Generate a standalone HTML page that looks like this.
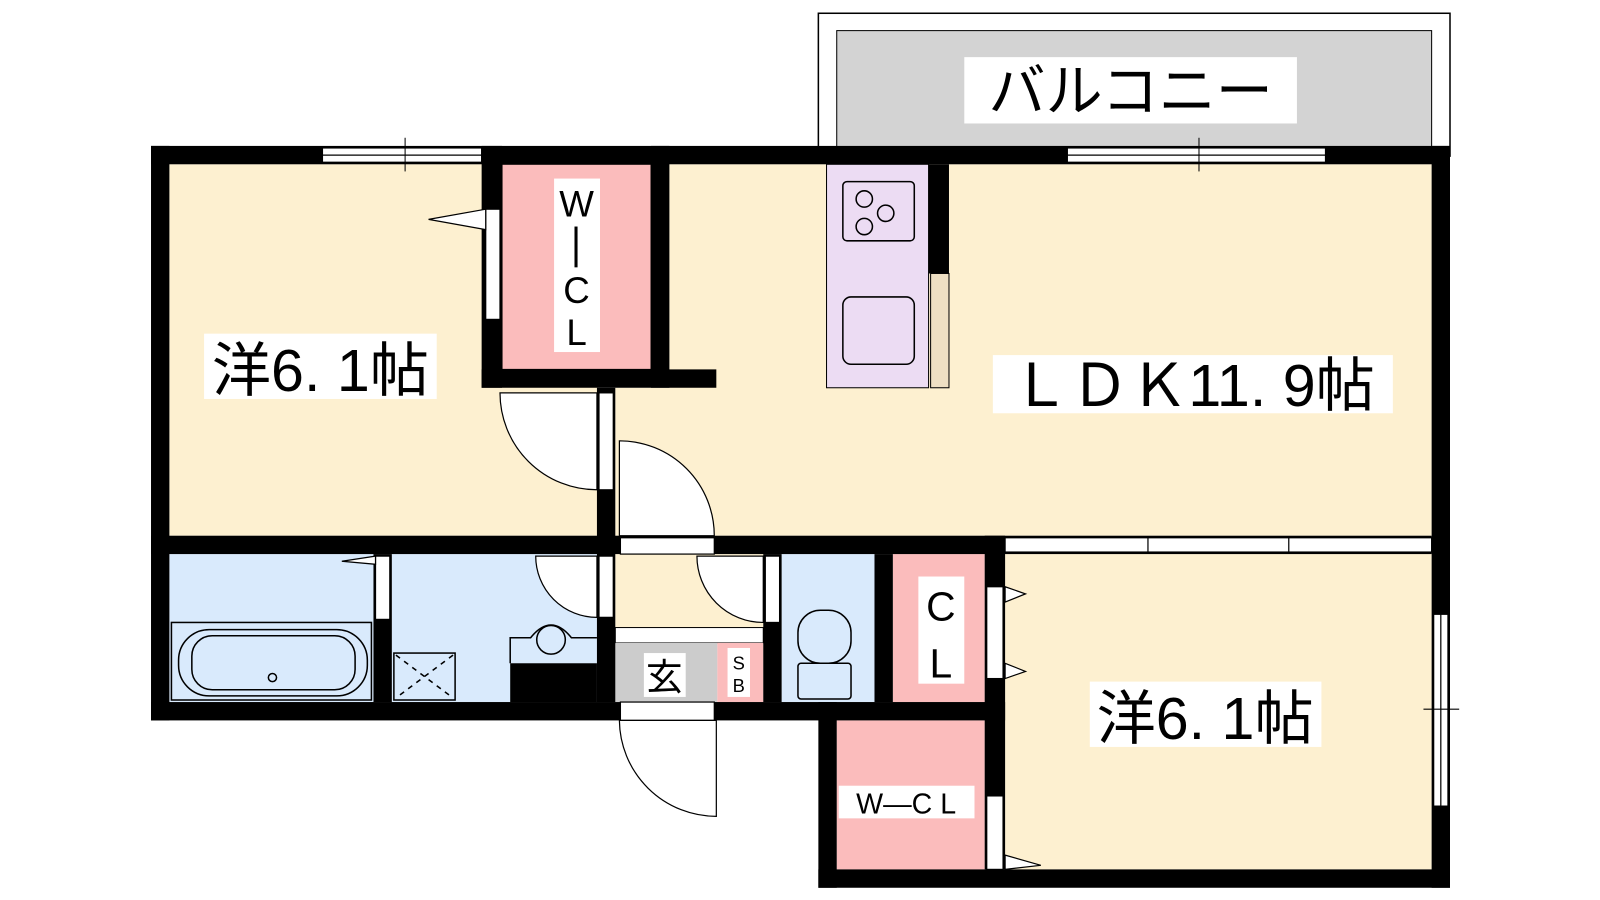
<!DOCTYPE html>
<html><head><meta charset="utf-8"><style>
body{margin:0;width:1600px;height:900px;background:#fff;overflow:hidden}
svg{position:absolute;left:0;top:0}
text{font-family:"Liberation Sans","Noto Sans CJK JP",sans-serif;fill:#000}
</style></head><body>
<svg width="1600" height="900" viewBox="0 0 1568 882">
<!-- balcony -->
<rect x="802" y="13" width="619" height="140" fill="#fff" stroke="#000" stroke-width="1.5"/>
<rect x="820" y="30" width="583" height="120" fill="#d3d3d3" stroke="#000" stroke-width="1"/>
<rect x="945" y="56" width="326" height="65" fill="#fff"/>
<text x="1108" y="109" font-size="56" text-anchor="middle">バルコニー</text>
<!-- room fills -->
<rect x="166" y="161" width="420" height="364" fill="#fdf0d0"/>
<rect x="656" y="161" width="747" height="364" fill="#fdf0d0"/>
<rect x="603" y="380" width="60" height="145" fill="#fdf0d0"/>
<rect x="492" y="161" width="146" height="201" fill="#fbbcbc" stroke="#000"/>
<rect x="166" y="543" width="200" height="145" fill="#d9eafc"/>
<rect x="384" y="543" width="201" height="145" fill="#d9eafc"/>
<rect x="603" y="543" width="145" height="72" fill="#fdf0d0"/>
<rect x="603" y="615" width="145" height="15" fill="#fff" stroke="#000"/>
<rect x="603" y="630" width="100" height="58" fill="#ccc"/>
<rect x="703" y="630" width="45" height="58" fill="#fbbcbc"/>
<rect x="766" y="543" width="91" height="145" fill="#d9eafc"/>
<rect x="875" y="543" width="90" height="145" fill="#fbbcbc"/>
<rect x="820" y="706" width="145" height="146" fill="#fbbcbc"/>
<rect x="985" y="543" width="418" height="309" fill="#fdf0d0"/>
<!-- kitchen -->
<rect x="810" y="161" width="100" height="219" fill="#ecdcf3" stroke="#000"/>
<rect x="912" y="268" width="18" height="112" fill="#eedfc3" stroke="#000"/>
<rect x="826" y="178" width="70" height="58" rx="4" fill="none" stroke="#000" stroke-width="1.5"/>
<circle cx="847" cy="195" r="8" fill="none" stroke="#000" stroke-width="1.5"/>
<circle cx="847" cy="222" r="8" fill="none" stroke="#000" stroke-width="1.5"/>
<circle cx="868" cy="209" r="8" fill="none" stroke="#000" stroke-width="1.5"/>
<rect x="826" y="291" width="70" height="66" rx="8" fill="none" stroke="#000" stroke-width="1.5"/>
<!-- walls -->
<g fill="#000">
<rect x="148" y="143" width="1273" height="18"/>
<rect x="148" y="143" width="18" height="563"/>
<rect x="1403" y="143" width="18" height="727"/>
<rect x="802" y="852" width="619" height="18"/>
<rect x="148" y="688" width="837" height="18"/>
<rect x="802" y="688" width="18" height="182"/>
<rect x="472" y="143" width="20" height="237"/>
<rect x="638" y="143" width="18" height="237"/>
<rect x="472" y="362" width="230" height="18"/>
<rect x="148" y="525" width="1255" height="18"/>
<rect x="585" y="380" width="18" height="308"/>
<rect x="366" y="543" width="18" height="145"/>
<rect x="500" y="650" width="85" height="38"/>
<rect x="748" y="543" width="18" height="145"/>
<rect x="857" y="543" width="18" height="145"/>
<rect x="965" y="525" width="20" height="327"/>
<rect x="910" y="161" width="20" height="107"/>
</g>
<!-- windows -->
<g fill="#fff" stroke="#000" stroke-width="1.2">
<rect x="316" y="145" width="156" height="14"/><line x1="316" y1="152" x2="472" y2="152"/>
<rect x="1046" y="145" width="253" height="14"/><line x1="1046" y1="152" x2="1299" y2="152"/>
<rect x="1405" y="602" width="14" height="188"/><line x1="1412" y1="602" x2="1412" y2="790"/>
<rect x="985" y="527" width="418" height="14"/><line x1="1125" y1="527" x2="1125" y2="541"/><line x1="1263" y1="527" x2="1263" y2="541"/>
<rect x="476" y="205" width="14" height="108"/>
<rect x="368" y="545" width="14" height="62"/>
<rect x="587" y="385" width="14" height="95"/>
<rect x="587" y="545" width="14" height="60"/>
<rect x="750" y="545" width="14" height="65"/>
<rect x="608" y="527" width="92" height="16"/>
<rect x="608" y="688" width="92" height="18"/>
<rect x="967" y="575" width="16" height="90"/>
<rect x="967" y="780" width="16" height="72"/>
</g>
<line x1="397" y1="135" x2="397" y2="168" stroke="#000"/>
<line x1="1175" y1="135" x2="1175" y2="168" stroke="#000"/>
<line x1="1395" y1="695" x2="1430" y2="695" stroke="#000"/>
<!-- door arcs -->
<g fill="#fff" stroke="#000" stroke-width="1.2">
<path d="M585,480 A95,95 0 0 1 490,385 L585,385 Z"/>
<path d="M607,432 A93,93 0 0 1 700,525 L607,525 Z"/>
<path d="M585,605 A60,60 0 0 1 525,545 L585,545 Z"/>
<path d="M748,610 A65,65 0 0 1 683,545 L748,545 Z"/>
<path d="M607,706 A95,95 0 0 0 702,800 L702,706 Z"/>
<path d="M420,215 L476,205 L476,225 Z"/>
<path d="M335,550 L368,545 L368,553 Z"/>
<path d="M985,575 L1005,582 L985,590 Z"/>
<path d="M985,650 L1005,658 L985,665 Z"/>
<path d="M985,838 L1020,848 L985,852 Z"/>
</g>
<!-- bath & wash -->
<g fill="none" stroke="#000" stroke-width="1.5">
<rect x="168" y="610" width="196" height="76"/>
<rect x="175" y="617" width="185" height="65" rx="30"/>
<rect x="188" y="623" width="160" height="53" rx="20"/>
<circle cx="267" cy="664" r="4"/>
<rect x="386" y="640" width="60" height="46"/>
<path d="M388,642 L444,684 M444,642 L388,684" stroke-dasharray="5,5"/>
<path d="M500,650 L500,625 L520,625 Q540,600 560,625 L585,625"/>
<circle cx="540" cy="627" r="14"/>
<rect x="782" y="598" width="52" height="52" rx="22"/>
<rect x="782" y="650" width="52" height="35" rx="3"/>
</g>
<!-- labels -->
<g>
<rect x="200" y="327" width="228" height="64" fill="#fff"/>
<text x="314" y="383" font-size="58" text-anchor="middle">洋6. 1帖</text>
<rect x="973" y="348" width="392" height="57" fill="#fff"/>
<text x="1169" y="398" font-size="58" text-anchor="middle">ＬＤＫ11. 9帖</text>
<rect x="1068" y="668" width="227" height="64" fill="#fff"/>
<text x="1181" y="724" font-size="58" text-anchor="middle">洋6. 1帖</text>
<rect x="543" y="175" width="45" height="170" fill="#fff"/>
<text x="565" y="212" font-size="36" text-anchor="middle">W</text>
<rect x="563" y="222" width="3" height="40" fill="#000"/>
<text x="565" y="297" font-size="36" text-anchor="middle">C</text>
<text x="565" y="338" font-size="36" text-anchor="middle">L</text>
<rect x="900" y="565" width="45" height="105" fill="#fff"/>
<text x="922" y="608" font-size="40" text-anchor="middle">C</text>
<text x="922" y="664" font-size="40" text-anchor="middle">L</text>
<rect x="822" y="770" width="133" height="32" fill="#fff"/>
<text x="888" y="797" font-size="28" text-anchor="middle">W—C L</text>
<rect x="631" y="640" width="41" height="43" fill="#fff"/>
<text x="651" y="676" font-size="36" text-anchor="middle">玄</text>
<rect x="713" y="635" width="22" height="48" fill="#fff"/>
<text x="724" y="656" font-size="18" text-anchor="middle">S</text>
<text x="724" y="678" font-size="18" text-anchor="middle">B</text>
</g>
</svg>
</body></html>
